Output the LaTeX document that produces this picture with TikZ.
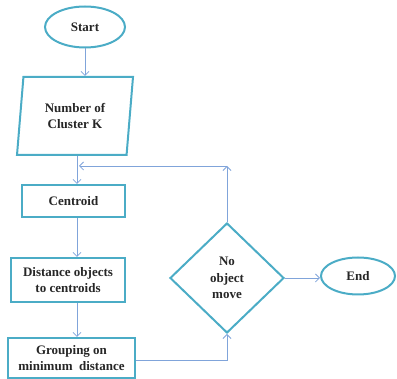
\documentclass[tikz,border=0pt]{standalone}
\usepackage{fontspec}
\setmainfont{Liberation Serif}
\usepackage{xcolor}
\usetikzlibrary{shapes.geometric}
\usetikzlibrary{arrows.meta}
\definecolor{boxline}{RGB}{75,172,198}
\definecolor{flowline}{RGB}{128,164,218}

\begin{document}
\begin{tikzpicture}[x=1pt,y=-1pt,
	shapeline/.style={draw=boxline,line width=2pt,align=center,inner sep=0pt,
		font=\fontsize{13}{16.5}\selectfont\bfseries,text=black!85},
	procbox/.style={shapeline,rectangle},
	flow/.style={draw=flowline,line width=0.8pt,-{Straight Barb[length=4pt,width=8pt]}}]
	\useasboundingbox (0,0) rectangle (397,379);
	\coordinate (spine) at (77,0);
	% main column
	\node[shapeline,ellipse,minimum width=80pt,minimum height=41pt] (start) at (85,27) {Start};
	\node[shapeline,trapezium,trapezium left angle=76,trapezium right angle=104,
		trapezium stretches body,minimum width=116pt,minimum height=78pt] (clusterk) at (75,116) {Number of\\Cluster K};
	\node[procbox,minimum width=103pt,minimum height=32pt] (centroid) at (73.5,201) {Centroid};
	\node[procbox,minimum width=114pt,minimum height=44pt] (distance) at (68,280) {Distance objects\\to centroids};
	\node[procbox,minimum width=127pt,minimum height=40pt] (grouping) at (71.5,358) {Grouping on\\minimum\ \ distance};
	% decision and end
	\node[shapeline,diamond,minimum width=114pt,minimum height=110pt] (nomove) at (227,278) {No\\object\\move};
	\node[shapeline,ellipse,minimum width=74pt,minimum height=37pt] (finish) at (358,276) {End};
	\coordinate (loopcorner) at (227,166);
	% connectors
	\draw[flow] (start.south) -- (start.south |- clusterk.north);
	\draw[flow] (clusterk.south -| spine) -- (centroid.north -| spine);
	\draw[flow] (centroid.south -| spine) -- (distance.north -| spine);
	\draw[flow] (distance.south -| spine) -- (grouping.north -| spine);
	\draw[flow] ([yshift=-2pt]grouping.east) -| (nomove.south);
	\draw[flow] (nomove.north) -- (loopcorner);
	\draw[flow] (loopcorner) -- ([xshift=2pt]loopcorner -| spine);
	\draw[flow] (nomove.east) -- (nomove.east -| finish.west);
\end{tikzpicture}
\end{document}
